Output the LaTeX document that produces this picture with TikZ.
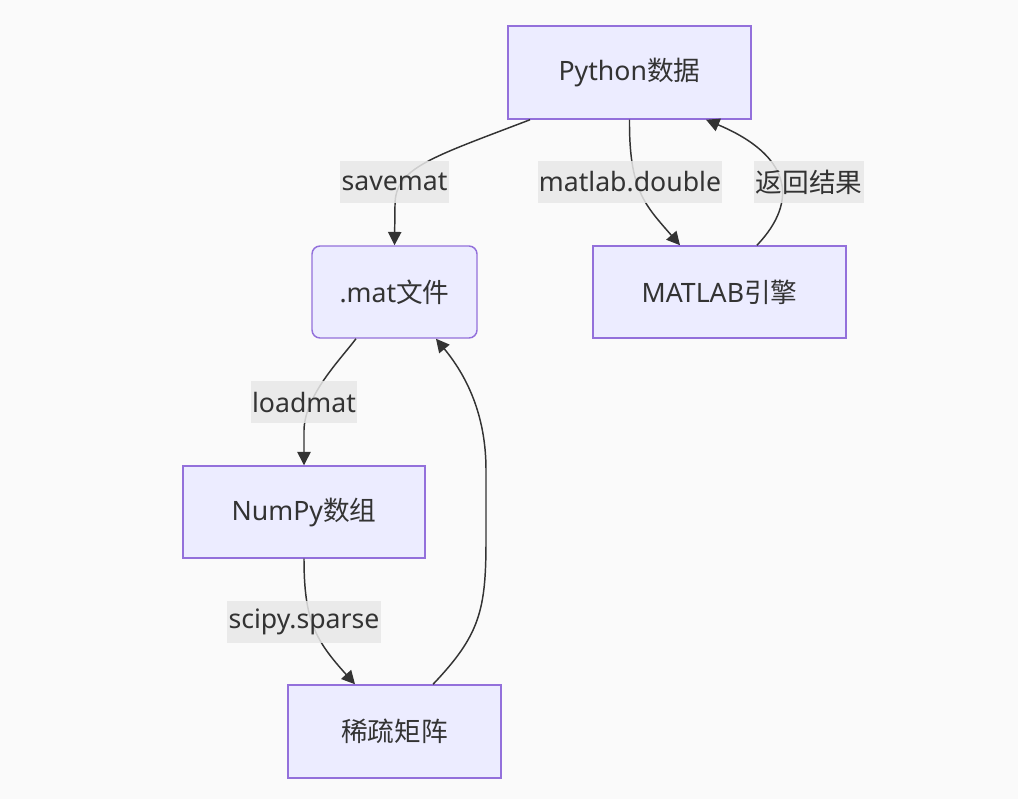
\documentclass[tikz,border=0pt]{standalone}
\usepackage{fontspec}
\setmainfont{Noto Sans}
\newfontfamily\cjk{Noto Sans CJK SC}
\usetikzlibrary{arrows.meta,calc}
\definecolor{bgc}{HTML}{FAFAFA}
\definecolor{nodefill}{HTML}{ECECFF}
\definecolor{nodeline}{HTML}{9370DB}
\definecolor{txt}{HTML}{333333}
\definecolor{lblbg}{HTML}{E8E8E8}
\tikzset{
  box/.style={draw=nodeline, fill=nodefill, line width=1.1pt, text=txt, inner sep=0pt,
    font=\fontsize{20pt}{24pt}\selectfont},
  lbl/.style={fill=lblbg, fill opacity=0.85, text opacity=1, text=txt, inner xsep=1pt, inner ysep=0pt,
    minimum height=31.5pt, font=\fontsize{20pt}{24pt}\selectfont},
  conn/.style={draw=txt, line width=1.1pt, -{Triangle[length=10pt,width=10pt]}}
}
\begin{document}
\begin{tikzpicture}[x=0.75pt,y=-0.75pt]
\fill[bgc] (0,0) rectangle (1018,799);
\useasboundingbox (0,0) rectangle (1018,799);
% nodes
\node[box, minimum width=182.25pt, minimum height=69.75pt] (py) at (629.5,72.5) {Python{\cjk 数据}};
\node[box, rounded corners=6pt, minimum width=123.75pt, minimum height=69pt] (mat) at (394.5,292) {.mat{\cjk 文件}};
\node[box, minimum width=189.75pt, minimum height=69pt] (me) at (719.5,292) {MATLAB{\cjk 引擎}};
\node[box, minimum width=181.5pt, minimum height=69pt] (np) at (304,512) {NumPy{\cjk 数组}};
\node[box, minimum width=159.75pt, minimum height=69.75pt] (sp) at (394.5,731.5) {\cjk 稀疏矩阵};
% connectors
\draw[conn] ([xshift=-74.6pt]py.south) .. controls (430,158) and (395,168) .. (395,205) -- (mat.north);
\draw[conn] (py.south) .. controls (629,190) and (645,205) .. ([xshift=-29.6pt]me.north);
\draw[conn] ([xshift=28.1pt]me.north) .. controls (800,200) and (790,155) .. ([xshift=57.4pt]py.south);
\draw[conn] ([xshift=-28.9pt]mat.south) .. controls (340,360) and (305,395) .. (304,430) -- (np.north);
\draw[conn] (np.south) .. controls (304,620) and (315,640) .. ([xshift=-29.6pt]sp.north);
\draw[conn] ([xshift=28.9pt]sp.north) .. controls (480,635) and (486,610) .. (486,540) -- (486,470) .. controls (486,420) and (470,380) .. ([xshift=31.1pt]mat.south);
% labels
\node[lbl] (l1) at (394.5,182) {savemat};
\node[lbl] (l2) at (630,182) {matlab.double};
\node[lbl] (l3) at (809,182) {\cjk 返回结果};
\node[lbl] (l4) at (304,402) {loadmat};
\node[lbl] (l5) at (304,622) {scipy.sparse};
\end{tikzpicture}
\end{document}
